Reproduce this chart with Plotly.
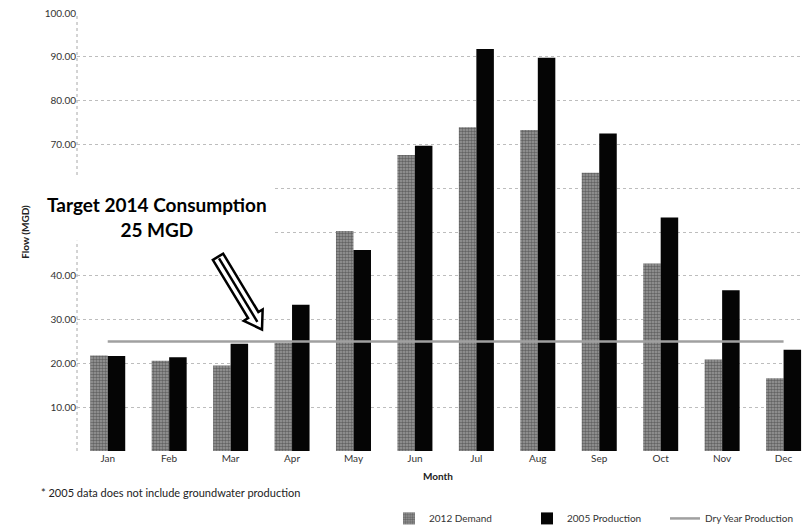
import plotly.graph_objects as go

# Monthly flows, million gallons per day
months = ["Jan", "Feb", "Mar", "Apr", "May", "Jun",
          "Jul", "Aug", "Sep", "Oct", "Nov", "Dec"]
demand_2012 = [21.8, 20.6, 19.5, 24.7, 50.2, 67.6, 73.9, 73.3, 63.5, 42.8, 20.9, 16.6]
production_2005 = [21.7, 21.4, 24.5, 33.4, 45.9, 69.7, 91.8, 89.8, 72.5, 53.3, 36.7, 23.1]
dry_year = [25, 25, 25, 25, 25, 25, 25, 25, 25, 25, 25, 25]
y_ticks = [0, 10, 20, 30, 40, 50, 60, 70, 80, 90, 100]
# 0, 50 and 60 carry no label (the last two sit behind the callout panel)
y_ticktext = ["", "10.00", "20.00", "30.00", "40.00", "", "", "70.00", "80.00", "90.00", "100.00"]

W, H = 802, 527
L, R, T, B = 77, 0, 13, 75.5
PW, PH = W - L - R, H - T - B


def px(x):
    return (x - L) / PW


def py(y):
    return (H - B - y) / PH


FONT = "Lato"

fig = go.Figure()
fig.add_trace(go.Bar(
    x=months, y=demand_2012, name="2012 Demand",
    marker=dict(color="#9c9c9c", line=dict(width=0),
                pattern=dict(shape=".", fgcolor="#2a2a2a", size=3, solidity=0.55)),
))
fig.add_trace(go.Bar(
    x=months, y=production_2005, name="2005 Production",
    marker=dict(color="#050505", line=dict(width=0)),
))
fig.add_trace(go.Scatter(
    x=months, y=dry_year, name="Dry Year Production", mode="lines",
    line=dict(color="#a0a0a0", width=2.5),
))

# Hollow block arrow pointing at the 25 MGD line
tail = (218.0, 257.0)
tip = (262.0, 330.0)
dx, dy = tip[0] - tail[0], tip[1] - tail[1]
ln = (dx * dx + dy * dy) ** 0.5
ux, uy = dx / ln, dy / ln
nx, ny = -uy, ux
shaft_w, head_w, head_l = 6.0, 11.0, 17.0
bx, by = tip[0] - ux * head_l, tip[1] - uy * head_l
pts = [
    (tail[0] + nx * shaft_w, tail[1] + ny * shaft_w),
    (bx + nx * shaft_w, by + ny * shaft_w),
    (bx + nx * head_w, by + ny * head_w),
    tip,
    (bx - nx * head_w, by - ny * head_w),
    (bx - nx * shaft_w, by - ny * shaft_w),
    (tail[0] - nx * shaft_w, tail[1] - ny * shaft_w),
]
path = "M " + " L ".join(f"{px(a):.5f},{py(b):.5f}" for a, b in pts) + " Z"

shapes = [
    # dotted left axis
    dict(type="line", xref="paper", yref="paper", x0=0, x1=0, y0=0, y1=1,
         line=dict(color="#a8a8a8", width=1, dash="dot"), layer="below"),
    # white panel behind the target callout
    dict(type="rect", xref="paper", yref="paper", x0=px(0), x1=px(272),
         y0=py(241), y1=py(178), fillcolor="white", line=dict(width=0), layer="above"),
    dict(type="path", xref="paper", yref="paper", path=path,
         fillcolor="white", line=dict(color="#000", width=2.5), layer="above"),
    dict(type="line", xref="paper", yref="paper",
         x0=px(tail[0] + ux * 2), y0=py(tail[1] + uy * 2),
         x1=px(tip[0] - ux * 9), y1=py(tip[1] - uy * 9),
         line=dict(color="#000", width=2.5), layer="above"),
]

annotations = [
    dict(text="<b>Target 2014 Consumption</b><br><b>25 MGD</b>", xref="paper", yref="paper",
         x=px(157), y=py(217), showarrow=False, xanchor="center", yanchor="middle",
         font=dict(family=FONT, size=19, color="#000"), align="center"),
    dict(text="<b>Flow (MGD)</b>", xref="paper", yref="paper", x=px(17), y=py(232),
         textangle=-90, showarrow=False, font=dict(family=FONT, size=10, color="#222")),
    dict(text="<b>Month</b>", xref="paper", yref="paper", x=px(438), y=py(485),
         showarrow=False, font=dict(family=FONT, size=10, color="#222")),
    dict(text="* 2005 data does not include groundwater production", xref="paper", yref="paper",
         x=px(39), y=py(502), xanchor="left", showarrow=False,
         font=dict(family=FONT, size=11, color="#222")),
]

fig.update_layout(
    width=W, height=H,
    margin=dict(l=L, r=R, t=T, b=B, autoexpand=False),
    paper_bgcolor="white", plot_bgcolor="white",
    barmode="group", bargap=0.43, bargroupgap=0,
    font=dict(family=FONT, size=10, color="#333"),
    shapes=shapes, annotations=annotations,
    legend=dict(orientation="h", x=px(389), xanchor="left", y=py(519), yanchor="middle",
                font=dict(family=FONT, size=10, color="#333"), bgcolor="rgba(0,0,0,0)",
                traceorder="normal", itemwidth=30, entrywidth=93, entrywidthmode="pixels"),
    showlegend=True,
)
fig.update_xaxes(
    type="category", range=[-0.5, 11.3], showgrid=False,
    showline=False, ticks="",
    tickfont=dict(family=FONT, size=10, color="#333"),
)
fig.update_yaxes(
    range=[0, 100], tickvals=y_ticks, ticktext=y_ticktext,
    showgrid=True, gridcolor="#bdbdbd", griddash="dot", gridwidth=1,
    showline=False, zeroline=False, ticks="",
    tickfont=dict(family=FONT, size=10, color="#333"),
)

fig.write_html("out.html")
